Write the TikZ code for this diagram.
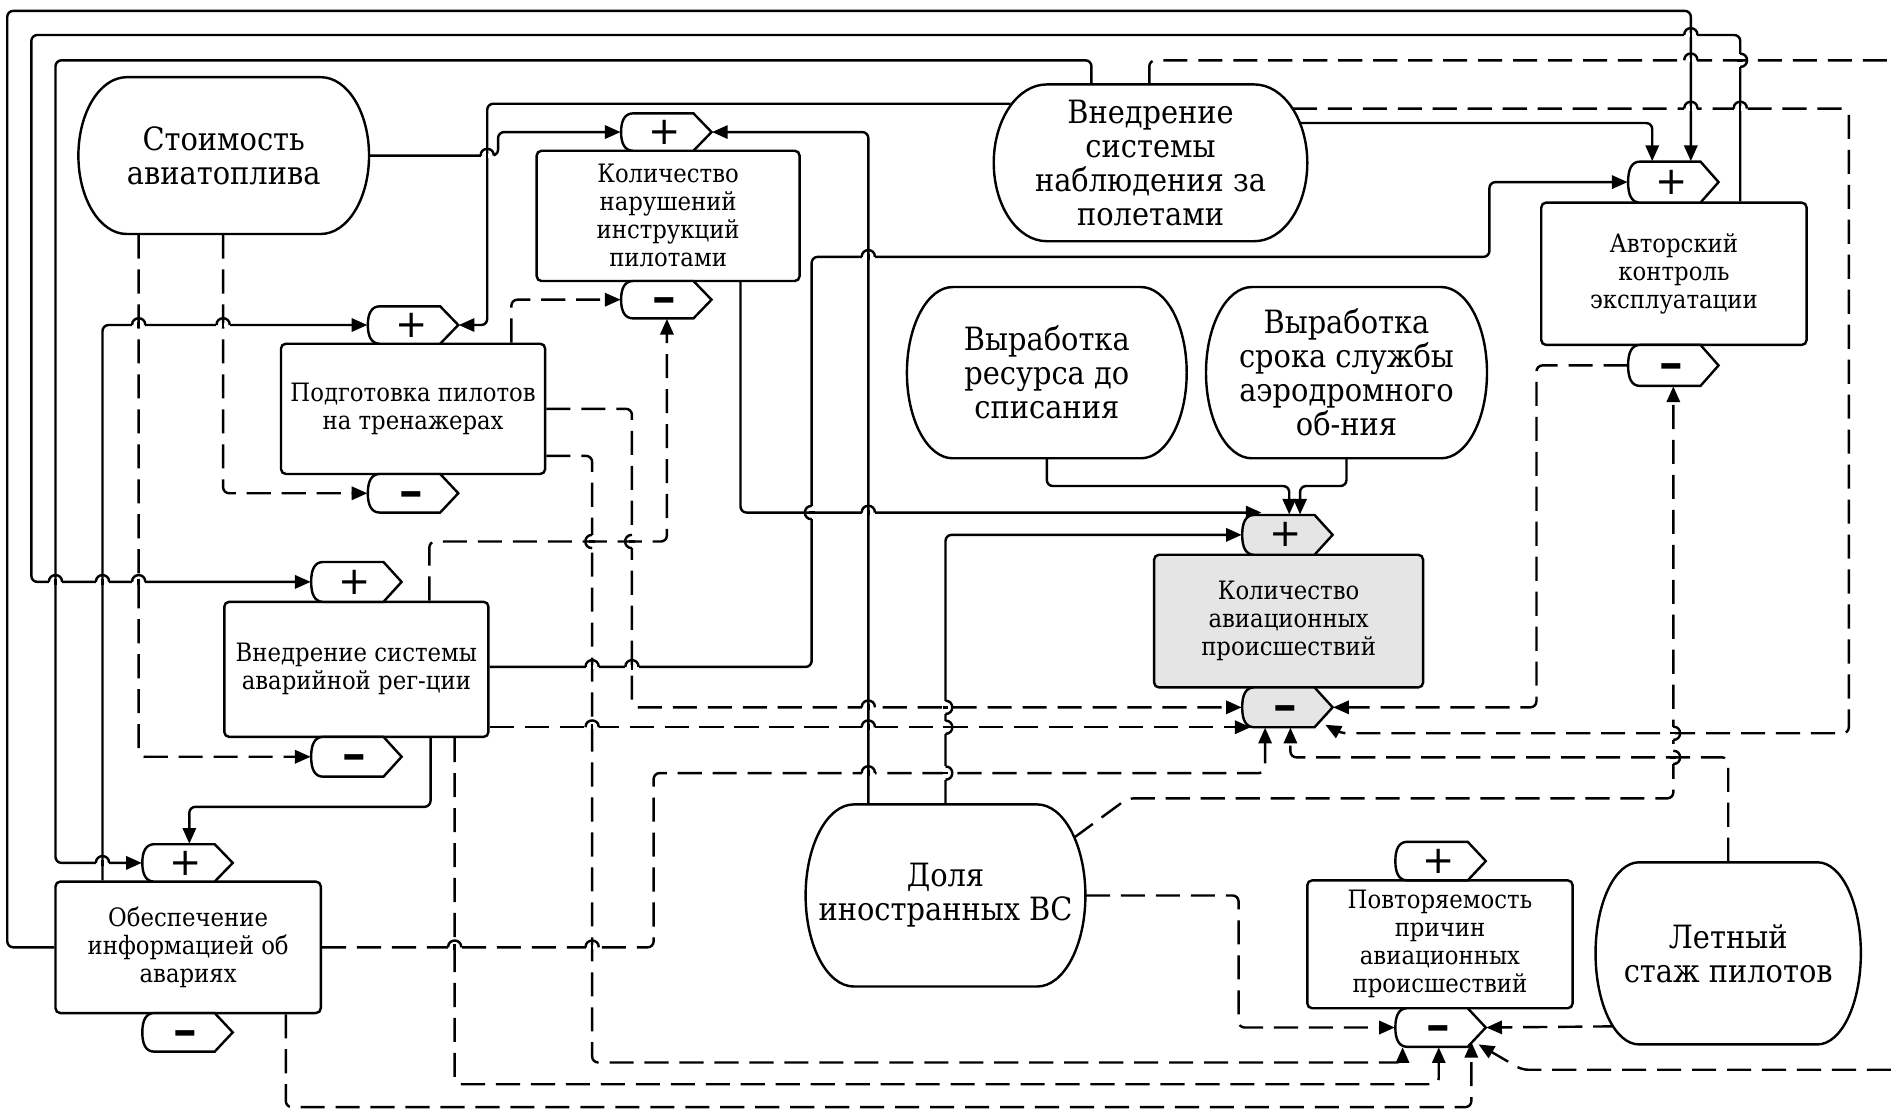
\documentclass[tikz,border=0pt]{standalone}
\usepackage{fontspec}
\usepackage{graphicx}
\setmainfont{DejaVu Serif}[FakeStretch=0.9]
\newfontfamily\signfont{DejaVu Sans}
\usetikzlibrary{arrows.meta}
\pgfdeclarelayer{back}
\pgfdeclarelayer{bg}
\pgfsetlayers{back,bg,main}
\definecolor{boxgray}{gray}{0.9}
\tikzset{
  shp/.style={draw, line width=1pt},
  bigtxt/.style={align=center, inner sep=0pt, font=\fontsize{13.3}{14.1}\selectfont},
  smalltxt/.style={align=center, inner sep=0pt, font=\fontsize{10.5}{11.6}\selectfont},
  boxsty/.style={shp, rounded corners=2pt, smalltxt},
  signtxt/.style={inner sep=0pt, font=\signfont\fontsize{16}{16}\selectfont},
  ln/.style={line width=1pt, rounded corners=2.5pt},
  dl/.style={ln, dash pattern=on 10pt off 4.5pt},
  ar/.style={-{Triangle[length=6.5pt,width=5.5pt]}},
}
% barrel: name, x1, y1, x2, y2, rx, text
\newcommand\barrel[7]{%
  \pgfmathsetmacro\bxa{#2}\pgfmathsetmacro\bya{#3}%
  \pgfmathsetmacro\bxb{#4}\pgfmathsetmacro\byb{#5}\pgfmathsetmacro\brx{#6}%
  \pgfmathsetmacro\bym{(\bya+\byb)/2}\pgfmathsetmacro\bry{(\byb-\bya)/2}%
  \pgfmathsetmacro\bk{0.552*\brx}\pgfmathsetmacro\bky{0.552*\bry}%
  \draw[shp, fill=white] ({\bxa+\brx},\bya) -- ({\bxb-\brx},\bya)
    .. controls ({\bxb-\brx+\bk},\bya) and (\bxb,{\bym-\bky}) .. (\bxb,\bym)
    .. controls (\bxb,{\bym+\bky}) and ({\bxb-\brx+\bk},\byb) .. ({\bxb-\brx},\byb)
    -- ({\bxa+\brx},\byb)
    .. controls ({\bxa+\brx-\bk},\byb) and (\bxa,{\bym+\bky}) .. (\bxa,\bym)
    .. controls (\bxa,{\bym-\bky}) and ({\bxa+\brx-\bk},\bya) .. ({\bxa+\brx},\bya) -- cycle;
  \node[bigtxt, minimum width={(\bxb-\bxa)*0.5pt}, minimum height={(\byb-\bya)*0.5pt}] (#1) at ({(\bxa+\bxb)/2},\bym) {#7};
}
% box: name, x1, y1, x2, y2, fill, text
\newcommand\cbox[7]{%
  \node[boxsty, fill=#6, minimum width={(#4-#2)*0.5pt}, minimum height={(#5-#3)*0.5pt}] (#1) at ({(#2+#4)/2},{(#3+#5)/2}) {#7};
}
% tag: name, x1, ytop, ybottom, sign, fill
\newcommand\ptag[6]{%
  \pgfmathsetmacro\tgA{#2}\pgfmathsetmacro\tgT{#3}\pgfmathsetmacro\tgB{#4}\pgfmathsetmacro\tgM{(#3+#4)/2}%
  \draw[shp, fill=#6] ({\tgA+10},\tgT) -- ({\tgA+60},\tgT) -- ({\tgA+75},\tgM) -- ({\tgA+60},\tgB) -- ({\tgA+10},\tgB)
    .. controls ({\tgA+3},\tgB) and (\tgA,{\tgB-6}) .. (\tgA,\tgM)
    .. controls (\tgA,{\tgT+6}) and ({\tgA+3},\tgT) .. ({\tgA+10},\tgT) -- cycle;
  \node[inner sep=0pt, minimum width=37.5pt, minimum height={(\tgB-\tgT)*0.5pt}] (#1) at ({\tgA+37.5},\tgM) {};
  \node[signtxt] at ({\tgA+36},\tgM) {#5};
}
\newcommand\splus{+}
\newcommand\sminus{\vphantom{+}\scalebox{1.6}[1]{\bfseries -}}
% hop of a horizontal line (at y=#2) over a vertical line (at x=#1)
\newcommand\hopH[2]{%
  \fill[white] ({#1-5.5},{#2-1.7}) rectangle ({#1+5.5},{#2+1.7});
  \draw[line width=1pt] (#1,{#2-2.4}) -- (#1,{#2+2.4});
  \draw[line width=1pt] ({#1-5.5},#2) .. controls ({#1-5.5},{#2-7.5}) and ({#1+5.5},{#2-7.5}) .. ({#1+5.5},#2);
}
% hop of a vertical line (at x=#1) around a horizontal line (at y=#2), bulge #3
\newcommand\hopV[3]{%
  \fill[white] ({#1-1.7},{#2-5.5}) rectangle ({#1+1.7},{#2+5.5});
  \draw[line width=1pt] ({#1-2.4},#2) -- ({#1+2.4},#2);
  \draw[line width=1pt] (#1,{#2-5.5}) .. controls ({#1+(#3)},{#2-5.5}) and ({#1+(#3)},{#2+5.5}) .. (#1,{#2+5.5});
}
\begin{document}
\begin{tikzpicture}[x=0.5pt,y=-0.5pt]
\useasboundingbox (0,0) rectangle (1568,922);
\begin{pgfonlayer}{back}
\fill[white] (0,0) rectangle (1568,922);
\end{pgfonlayer}

% ---------- barrels ----------
\barrel{st}{65}{64}{306}{194}{40}{Стоимость\\авиатоплива}
\barrel{nab}{824}{70}{1084}{200}{44}{Внедрение\\системы\\наблюдения за\\полетами}
\barrel{res}{752}{238}{984}{380}{38}{Выработка\\ресурса до\\списания}
\barrel{srok}{1000}{238}{1233}{380}{38}{Выработка\\срока службы\\аэродромного\\об-ния}
\barrel{dol}{668}{667}{900}{818}{40}{Доля\\иностранных ВС}
\barrel{stazh}{1323}{715}{1543}{866}{36}{Летный\\стаж пилотов}

% ---------- boxes ----------
\cbox{nar}{445}{125}{663}{233}{white}{Количество\\нарушений\\инструкций\\пилотами}
\cbox{pod}{233}{285}{452}{393}{white}{Подготовка пилотов\\на тренажерах}
\cbox{avr}{186}{499}{405}{611}{white}{Внедрение системы\\аварийной рег-ции}
\cbox{obs}{46}{731}{266}{840}{white}{Обеспечение\\информацией об\\авариях}
\cbox{kap}{957}{460}{1180}{570}{boxgray}{Количество\\авиационных\\происшествий}
\cbox{avt}{1278}{168}{1498}{286}{white}{Авторский\\контроль\\эксплуатации}
\cbox{pov}{1084}{730}{1304}{836}{white}{Повторяемость\\причин\\авиационных\\происшествий}

% ---------- tags ----------
\ptag{narP}{515}{94}{125}{\splus}{white}
\ptag{narM}{515}{233}{264}{\sminus}{white}
\ptag{podP}{305}{254}{285}{\splus}{white}
\ptag{podM}{305}{393}{425}{\sminus}{white}
\ptag{avrP}{258}{466}{499}{\splus}{white}
\ptag{avrM}{258}{611}{644}{\sminus}{white}
\ptag{obsP}{118}{700}{731}{\splus}{white}
\ptag{obsM}{118}{840}{872}{\sminus}{white}
\ptag{kapP}{1030}{427}{460}{\splus}{boxgray}
\ptag{kapM}{1030}{570}{603}{\sminus}{boxgray}
\ptag{avtP}{1350}{134}{168}{\splus}{white}
\ptag{avtM}{1350}{286}{320}{\sminus}{white}
\ptag{povP}{1157}{698}{730}{\splus}{white}
\ptag{povM}{1157}{836}{868}{\sminus}{white}

\begin{pgfonlayer}{bg}
% ---------- solid connectors ----------
\draw[ln,ar] (obs.west) -- (6,0 |- obs.west) -- (6,9) -- (1402,9) -- (1402,0 |- avtP.north);
\draw[ln,ar] (1443,0 |- avt.north) -- (1443,29) -- (26,29) -- (26,0 |- avrP.west) -- (avrP.west);
\draw[ln,ar] (905,0 |- nab.north) -- (905,50) -- (46,50) -- (46,0 |- obsP.west) -- (obsP.west);
\draw[ln,ar] (85,0 |- obs.north) -- (85,0 |- podP.west) -- (podP.west);
\draw[ln,ar] (838,86) -- (404,86) -- (404,0 |- podP.east) -- (podP.east);
\draw[ln,ar] (st.east) -- (413,0 |- st.east) -- (413,0 |- narP.west) -- (narP.west);
\draw[ln,ar] (720,0 |- dol.north) -- (720,0 |- narP.east) -- (narP.east);
\draw[ln,ar] (784,0 |- dol.north) -- (784,0 |- kapP.west) -- (kapP.west);
\draw[ln,ar] (614,0 |- nar.south) -- (614,425) -- (1046,425);
\draw[ln,ar] (avr.east |- 0,553) -- (673,553) -- (673,213) -- (1235,213) -- (1235,0 |- avtP.west) -- (avtP.west);
\draw[ln,ar] (res.south) -- (868,403) -- (1069,403) -- (1069,0 |- kapP.north);
\draw[ln,ar] (srok.south) -- (1116.5,403) -- (1078,403) -- (1078,0 |- kapP.north);
\draw[ln,ar] (357,0 |- avr.south) -- (357,669) -- (157,669) -- (157,0 |- obsP.north);
\draw[ln,ar] (1078,102) -- (1370,102) -- (1370,0 |- avtP.north);

% ---------- dashed connectors ----------
\draw[dl,ar] (115,0 |- st.south) -- (115,0 |- avrM.west) -- (avrM.west);
\draw[dl,ar] (185,0 |- st.south) -- (185,0 |- podM.west) -- (podM.west);
\draw[dl,ar] (424,0 |- pod.north) -- (424,0 |- narM.west) -- (narM.west);
\draw[dl,ar] (pod.east |- 0,339) -- (524,339) -- (524,0 |- kapM.west) -- (kapM.west);
\draw[dl,ar] (avr.east |- 0,603) -- (1037,603);
\draw[dl,ar] (pod.east |- 0,378) -- (491,378) -- (491,881) -- (1163,881) -- (1163,0 |- povM.south);
\draw[dl,ar] (377,0 |- avr.south) -- (377,899) -- (1193,899) -- (1193,0 |- povM.south);
\draw[dl,ar] (237,0 |- obs.south) -- (237,918) -- (1220,918) -- (1220,864);
\draw[dl,ar] (obs.east) -- (542,0 |- obs.east) -- (542,641) -- (1049,641) -- (1049,0 |- kapM.south);
\draw[dl,ar] (stazh.north) -- (1433,628) -- (1070,628) -- (1070,0 |- kapM.south);
\draw[dl,ar] (890,695) -- (935,662) -- (avtM.south |- 0,662) -- (avtM.south);
\draw[dl,ar] (1072,90) -- (1533,90) -- (1533,608) -- (1112,608) -- (1099,601);
\draw[dl] (953,0 |- nab.north) -- (953,50) -- (1568,50);
\draw[dl,ar] (1568,887) -- (1262,887) -- (1226,866);
\draw[dl,ar] (1341,851) -- (povM.east);
\draw[dl,ar] (dol.east) -- (1027,0 |- dol.east) -- (1027,0 |- povM.west) -- (povM.west);
\draw[dl,ar] (avtM.west) -- (1274,0 |- avtM.west) -- (1274,0 |- kapM.east) -- (kapM.east);
\draw[dl,ar] (356,0 |- avr.north) -- (356,449) -- (553,449) -- (553,0 |- narM.south);

% ---------- line jumps ----------
\hopH{404}{129}
\hopH{115}{269.5}\hopH{185}{269.5}
\hopH{46}{482.5}\hopH{85}{482.5}\hopH{115}{482.5}
\hopH{85}{715.5}
\hopH{491}{553}\hopH{524}{553}
\hopH{720}{213}
\hopH{720}{425}
\hopH{720}{586.5}
\hopH{491}{603}\hopH{720}{603}
\hopH{720}{641}
\hopH{377}{785.5}\hopH{491}{785.5}
\hopH{1402}{29}\hopH{1402}{50}\hopH{1402}{90}\hopH{1443}{90}
\hopV{673}{425}{-7.5}
\hopV{784}{586.5}{7.5}\hopV{784}{603}{7.5}\hopV{784}{641}{7.5}
\hopV{491}{449}{-7.5}\hopV{524}{449}{-7.5}
\hopV{1443}{50}{7.5}
\hopV{1387.5}{608}{7.5}\hopV{1387.5}{628}{7.5}
\end{pgfonlayer}
\end{tikzpicture}
\end{document}
